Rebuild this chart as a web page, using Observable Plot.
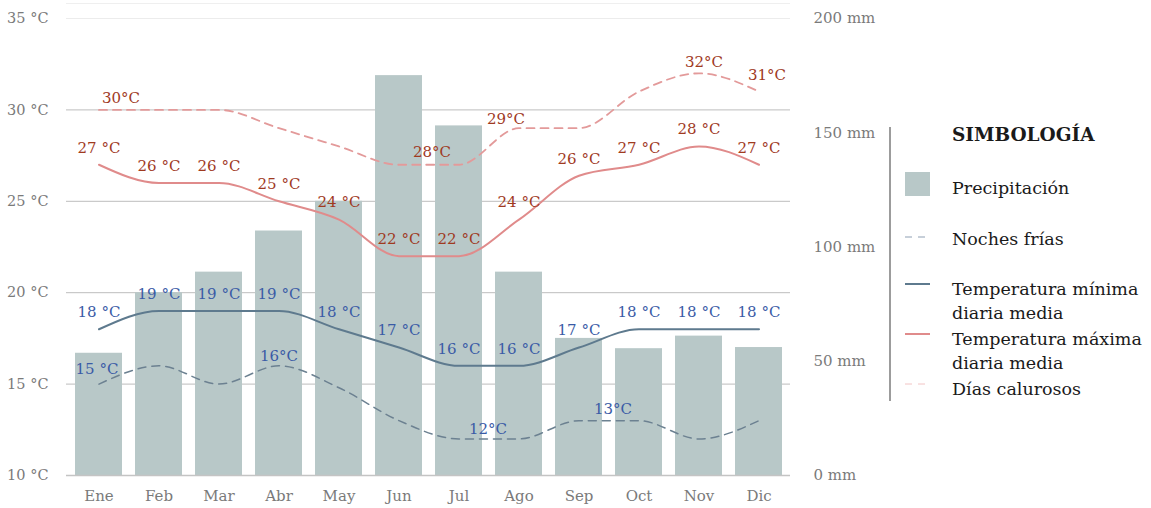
<!DOCTYPE html>
<html><head><meta charset="utf-8">
<script src="https://cdn.jsdelivr.net/npm/d3@7"></script>
<script src="https://cdn.jsdelivr.net/npm/@observablehq/plot@0.6"></script>
<style>
body{margin:0;background:#fff;}
#wrap{position:relative;width:1151px;height:508px;overflow:hidden;font-family:"DejaVu Serif",serif;}
#topline{position:absolute;left:66px;top:3px;width:724px;height:1px;background:#efefef;}
.lg{position:absolute;left:952px;font-size:17.5px;color:#1a1a1a;line-height:24px;white-space:nowrap;}
#lgbar{position:absolute;left:889px;top:127px;width:2px;height:274px;background:#9c9c9c;}
#lgsvg{position:absolute;left:900px;top:160px;}
</style></head><body>
<div id="wrap">
  <div id="topline"></div>
  <div id="lgbar"></div>
  <svg id="lgsvg" width="40" height="240">
    <rect x="5" y="12" width="25" height="24" fill="#b8c8c8"></rect>
    <line x1="5" x2="30" y1="77" y2="77" stroke="#8e9fb3" stroke-width="1" stroke-dasharray="7,6"></line>
    <line x1="5" x2="30" y1="124" y2="124" stroke="#5e7a8e" stroke-width="2"></line>
    <line x1="5" x2="30" y1="174" y2="174" stroke="#e08b8b" stroke-width="2"></line>
    <line x1="5" x2="30" y1="224" y2="224" stroke="#f2c4c4" stroke-width="1" stroke-dasharray="7,6"></line>
  </svg>
  <div class="lg" style="top:123px;font-weight:bold;font-size:18.5px;">SIMBOLOGÍA</div>
  <div class="lg" style="top:176px;">Precipitación</div>
  <div class="lg" style="top:227px;">Noches frías</div>
  <div class="lg" style="top:277px;">Temperatura mínima<br>diaria media</div>
  <div class="lg" style="top:327px;">Temperatura máxima<br>diaria media</div>
  <div class="lg" style="top:377px;">Días calurosos</div>
</div>
<script>
const months = ["Ene","Feb","Mar","Abr","May","Jun","Jul","Ago","Sep","Oct","Nov","Dic"];
const precipMm = [53.5, 80, 89, 107, 120, 175, 153, 89, 60, 55.5, 61, 56];
const tMax = [27, 26, 26, 25, 24, 22, 22, 24, 26.4, 27, 28, 27];
const tMin = [18, 19, 19, 19, 18, 17, 16, 16, 17, 18, 18, 18];
const hotDays = [30, 30, 30, 29, 28, 27, 27, 29, 29, 31, 32, 31];
const coldNights = [15, 16, 15, 16, 14.8, 13, 12, 12, 13, 13, 12, 13];
const tempTicks = [10, 15, 20, 25, 30, 35];
const mmTicks = [0, 50, 100, 150, 200];
const hotLabelMonths = ["Ene", "Jul", "Ago", "Nov", "Dic"];
const hotLabelTexts = ["30°C", "28°C", "29°C", "32°C", "31°C"];
const coldLabelMonths = ["Ene", "Abr", "Jul", "Oct"];
const coldLabelTexts = ["15 °C", "16°C", "12°C", "13°C"];

const mmToC = mm => 10 + mm * 25 / 200;
const data = months.map((m, i) => ({month: m, precip: precipMm[i], tmax: tMax[i], tmin: tMin[i], hot: hotDays[i], cold: coldNights[i]}));
const byMonth = Object.fromEntries(data.map(d => [d.month, d]));
const hotLabels = hotLabelMonths.map((m, i) => ({month: m, value: byMonth[m].hot, text: hotLabelTexts[i]}));
const coldLabels = coldLabelMonths.map((m, i) => ({month: m, value: byMonth[m].cold, text: coldLabelTexts[i]}));

const RED = "#9f3a1f", BLUE = "#3a5ba6";
const lblFont = {fontSize: 15, fontFamily: "DejaVu Serif"};

// per-label nudges (label placement in the original is hand-tuned)
const hotNudge = [[22, -12], [-27, -13], [-13, -9], [5, -11], [8, -16]];
const coldNudge = [[-2, -15], [0, -10], [29, -10], [-26, -11]];

const marks = [
  Plot.ruleY([15, 20, 25, 30], {stroke: "#bdbdbd", strokeWidth: 1}),
  Plot.ruleY([35], {stroke: "#ececec", strokeWidth: 1}),
  Plot.barY(data, {x: "month", y1: 10, y2: d => mmToC(d.precip), fill: "#b8c8c8"}),
  Plot.ruleY([10], {stroke: "#c4c4c4", strokeWidth: 1.5}),
  Plot.line(data, {x: "month", y: "hot", curve: "monotone-x", stroke: "#e39a9a", strokeWidth: 1.8, strokeDasharray: "8,6"}),
  Plot.line(data, {x: "month", y: "cold", curve: "monotone-x", stroke: "#6c8191", strokeWidth: 1.5, strokeDasharray: "8,6"}),
  Plot.line(data, {x: "month", y: "tmax", curve: "monotone-x", stroke: "#e08b8b", strokeWidth: 2}),
  Plot.line(data, {x: "month", y: "tmin", curve: "monotone-x", stroke: "#5e7a8e", strokeWidth: 2}),
  Plot.text(data, {x: "month", y: "tmax", text: d => `${Math.round(d.tmax)} °C`, dy: -17, fill: RED, ...lblFont, letterSpacing: "3px"}),
  Plot.text(data, {x: "month", y: "tmin", text: d => `${Math.round(d.tmin)} °C`, dy: -17, fill: BLUE, ...lblFont, letterSpacing: "3px"}),
  ...hotLabels.map((l, i) => Plot.text([l], {x: "month", y: "value", text: "text", dx: hotNudge[i][0], dy: hotNudge[i][1], fill: RED, ...lblFont, letterSpacing: "1px"})),
  ...coldLabels.map((l, i) => Plot.text([l], {x: "month", y: "value", text: "text", dx: coldNudge[i][0], dy: coldNudge[i][1], fill: BLUE, ...lblFont, letterSpacing: "1px"})),
  Plot.axisY({ticks: tempTicks, tickFormat: d => `${d} °C`, tickSize: 0, tickPadding: 18, fontSize: 14.5, color: "#7a7a7a", label: null}),
  Plot.axisY({anchor: "right", ticks: mmTicks.map(mmToC), tickFormat: (d, i) => `${mmTicks[i]} mm`, tickSize: 0, tickPadding: 23, fontSize: 15, color: "#7a7a7a", label: null, textAnchor: "start"}),
  Plot.axisX({tickSize: 0, tickPadding: 15, fontSize: 15, color: "#7a7a7a", label: null})
];

const chart = Plot.plot({
  width: 1151, height: 508,
  marginLeft: 66, marginRight: 361, marginTop: 18, marginBottom: 33,
  style: {fontFamily: "DejaVu Serif", background: "transparent", overflow: "visible"},
  x: {type: "band", domain: months, paddingInner: 0.22, paddingOuter: 0.1, label: null, axis: null},
  y: {domain: [10, 35], label: null, axis: null},
  marks
});
chart.style.position = "absolute";
chart.style.left = "0";
chart.style.top = "0";
document.getElementById("wrap").prepend(chart);
</script>
</body></html>
